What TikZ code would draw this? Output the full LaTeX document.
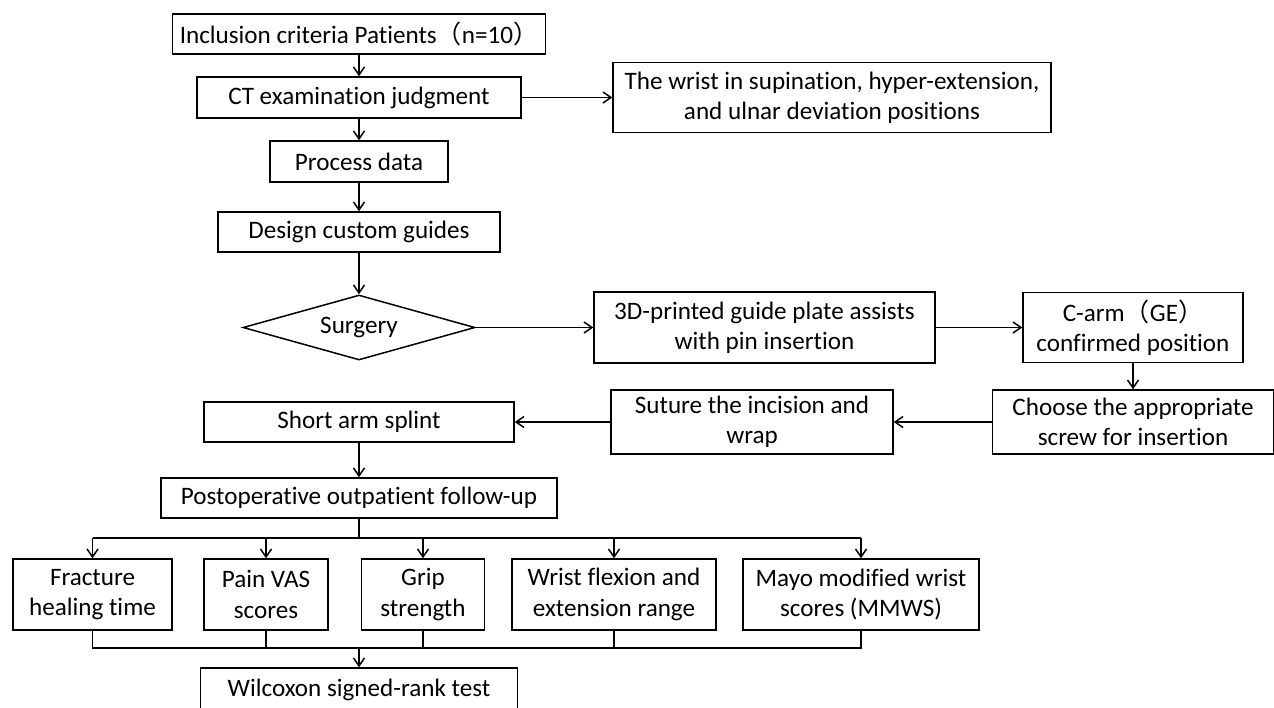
\documentclass[tikz,border=0pt]{standalone}
\usepackage{fontspec}
\setmainfont[Ligatures={NoCommon}]{Carlito}
\newfontfamily\cjk{Noto Sans CJK SC}
\usepackage{tikz}
\usetikzlibrary{arrows.meta,shapes.geometric}

\begin{document}
\begin{tikzpicture}[x=0.02cm,y=-0.02cm,->,>={Straight Barb[length=1.6mm,width=2.2mm]},line width=0.85pt,
    every node/.style={font=\fontsize{14.3}{17.2}\selectfont}]
  \tikzstyle{box}=[rectangle,draw,align=center,inner sep=2pt]
  \tikzstyle{decision}=[diamond,draw,aspect=3.5,inner sep=0pt]

  \path[use as bounding box,fill=white] (0,0) rectangle (1274,707);

  % main column
  \node[box,minimum width=7.46cm,minimum height=0.8cm]   (incl)   at (359,34)    {Inclusion criteria Patients{\cjk （}n=10{\cjk ）}};
  \node[box,minimum width=6.48cm,minimum height=0.82cm]  (ct)     at (359,97.5)  {CT examination judgment};
  \node[box,minimum width=8.76cm,minimum height=1.4cm]   (wrist)  at (832,97.5)  {The wrist in supination, hyper-extension,\\and ulnar deviation positions};
  \node[box,minimum width=3.56cm,minimum height=0.82cm]  (proc)   at (359,161.5) {Process data};
  \node[box,minimum width=5.64cm,minimum height=0.8cm]   (design) at (359,232)   {Design custom guides};
  \node[decision,minimum width=4.64cm,minimum height=1.3cm] (surg) at (359,327.5) {Surgery};
  \node[box,minimum width=6.82cm,minimum height=1.42cm]  (plate)  at (764.5,327.5) {3D-printed guide plate assists\\with pin insertion};
  \node[box,minimum width=4.4cm,minimum height=1.4cm]    (carm)   at (1133,327.5) {C-arm{\cjk （}GE{\cjk ）}\\confirmed position};
  \node[box,minimum width=5.62cm,minimum height=1.28cm]  (screw)  at (1133,422)  {Choose the appropriate\\screw for insertion};
  \node[box,minimum width=5.64cm,minimum height=1.28cm]  (suture) at (752,422)   {Suture the incision and\\wrap};
  \node[box,minimum width=6.2cm,minimum height=0.8cm]    (splint) at (359,422)   {Short arm splint};
  \node[box,minimum width=7.92cm,minimum height=0.8cm]   (follow) at (359,498)   {Postoperative outpatient follow-up};

  % outcomes
  \node[box,minimum width=3.18cm,minimum height=1.42cm]  (heal)   at (92.5,594.5)  {Fracture\\healing time};
  \node[box,minimum width=2.48cm,minimum height=1.42cm]  (vas)    at (266,594.5)   {Pain VAS\\scores};
  \node[box,minimum width=2.46cm,minimum height=1.42cm]  (grip)   at (423,594.5)   {Grip\\strength};
  \node[box,minimum width=4.08cm,minimum height=1.42cm]  (range)  at (614,594.5)   {Wrist flexion and\\extension range};
  \node[box,minimum width=4.72cm,minimum height=1.42cm]  (mmws)   at (861,594.5)   {Mayo modified wrist\\scores (MMWS)};
  \node[box,minimum width=6.34cm,minimum height=0.88cm]  (wilc)   at (359,690)     {Wilcoxon signed-rank test};

  \coordinate (split) at (359,538);
  \coordinate (join)  at (359,648);

  \path (incl)   edge (ct)
        (ct)     edge (proc)
        (ct)     edge (wrist)
        (proc)   edge (design)
        (design) edge (surg)
        (surg)   edge (plate)
        (plate)  edge (carm)
        (carm)   edge (screw)
        (screw)  edge (suture)
        (suture) edge (splint)
        (splint) edge (follow);

  % branch to the outcomes
  \draw[-] (follow) -- (split);
  \draw[-] (heal |- split) -- (mmws |- split);
  \path (heal |- split)  edge (heal)
        (vas |- split)   edge (vas)
        (grip |- split)  edge (grip)
        (range |- split) edge (range)
        (mmws |- split)  edge (mmws);

  % back together
  \draw[-] (heal) -- (heal |- join) -- (mmws |- join) -- (mmws);
  \draw[-] (vas) -- (vas |- join);
  \draw[-] (grip) -- (grip |- join);
  \draw[-] (range) -- (range |- join);
  \path (join) edge (wilc);

\end{tikzpicture}
\end{document}
